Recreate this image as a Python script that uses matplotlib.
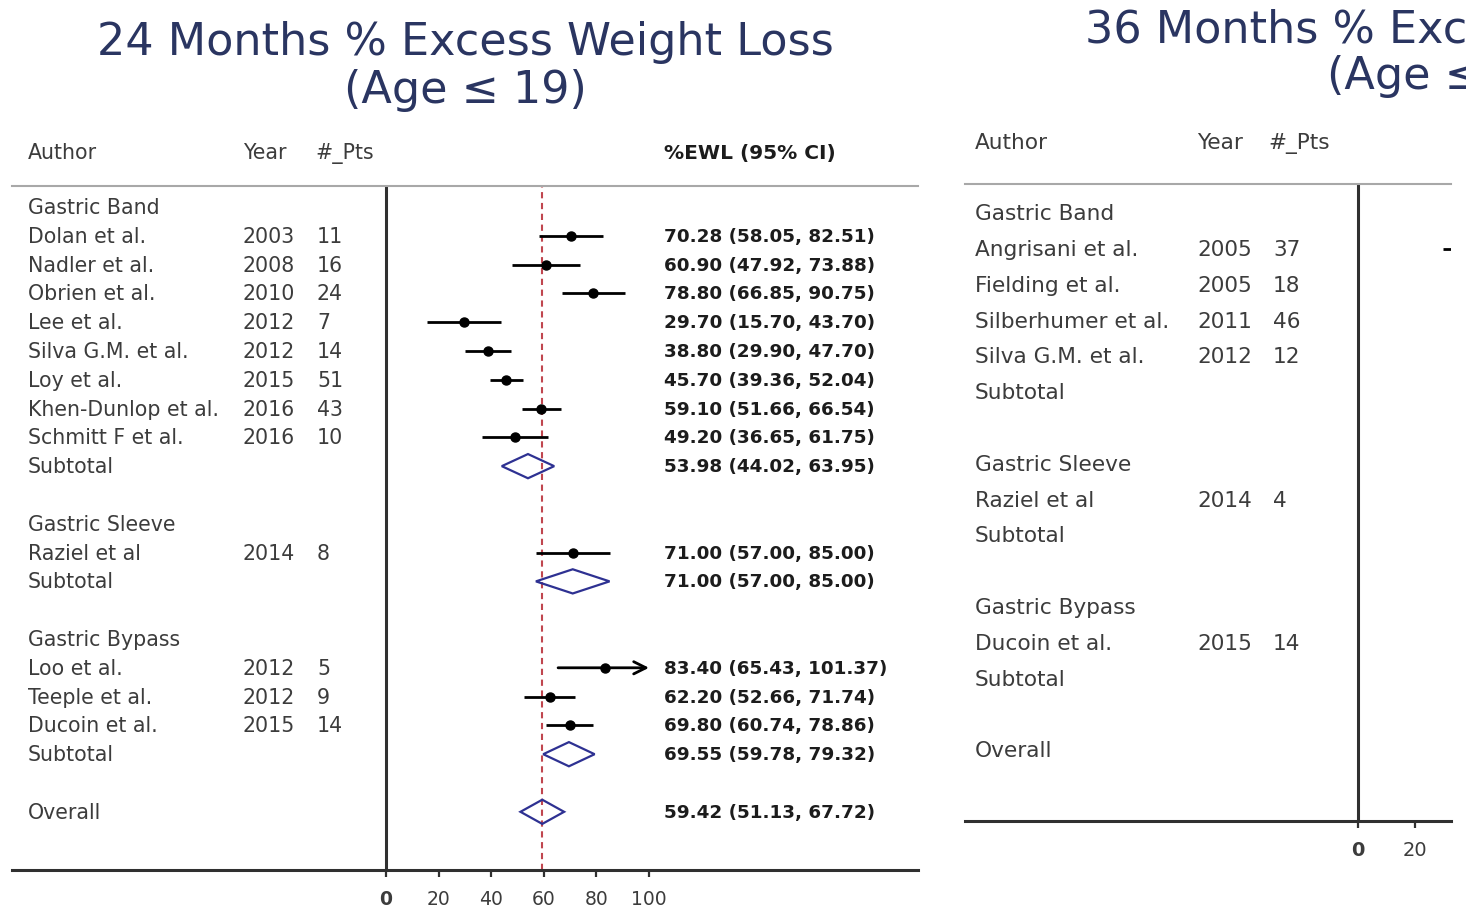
import matplotlib.pyplot as plt
from matplotlib.transforms import Affine2D, blended_transform_factory
from matplotlib.patches import Polygon

plt.rcParams['font.family'] = ['DejaVu Sans']

# ----------- 24 months (left panel) ----------- #
band_authors = ['Dolan et al.', 'Nadler et al.', 'Obrien et al.', 'Lee et al.',
                'Silva G.M. et al.', 'Loy et al.', 'Khen-Dunlop et al.', 'Schmitt F et al.']
band_years = [2003, 2008, 2010, 2012, 2012, 2015, 2016, 2016]
band_pts = [11, 16, 24, 7, 14, 51, 43, 10]
band_ewl = [70.28, 60.90, 78.80, 29.70, 38.80, 45.70, 59.10, 49.20]
band_low = [58.05, 47.92, 66.85, 15.70, 29.90, 39.36, 51.66, 36.65]
band_high = [82.51, 73.88, 90.75, 43.70, 47.70, 52.04, 66.54, 61.75]
band_sub = [53.98, 44.02, 63.95]

sleeve_authors = ['Raziel et al']
sleeve_years = [2014]
sleeve_pts = [8]
sleeve_ewl = [71.00]
sleeve_low = [57.00]
sleeve_high = [85.00]
sleeve_sub = [71.00, 57.00, 85.00]

bypass_authors = ['Loo et al.', 'Teeple et al.', 'Ducoin et al.']
bypass_years = [2012, 2012, 2015]
bypass_pts = [5, 9, 14]
bypass_ewl = [83.40, 62.20, 69.80]
bypass_low = [65.43, 52.66, 60.74]
bypass_high = [101.37, 71.74, 78.86]
bypass_sub = [69.55, 59.78, 79.32]

overall_24 = [59.42, 51.13, 67.72]

# ----------- 36 months (right panel, cut off in the source) ----------- #
band36_authors = ['Angrisani et al.', 'Fielding et al.', 'Silberhumer et al.', 'Silva G.M. et al.']
band36_years = [2005, 2005, 2011, 2012]
band36_pts = [37, 18, 46, 12]
band36_low = [29.8, None, None, None]   # only the start of the first CI is visible
sleeve36_authors = ['Raziel et al']
sleeve36_years = [2014]
sleeve36_pts = [4]
bypass36_authors = ['Ducoin et al.']
bypass36_years = [2015]
bypass36_pts = [14]

group_names = ['Gastric Band', 'Gastric Sleeve', 'Gastric Bypass']
ticks = [0, 20, 40, 60, 80, 100]

W, H = 1466, 912
fig = plt.figure(figsize=(W / 100, H / 100), dpi=100)
px = Affine2D().scale(1 / W, -1 / H).translate(0, 1) + fig.transFigure

GRAY = '#3c3c3c'
NAVY = '#2a3561'
BLUE = '#2e3192'
RED = '#c0464f'
LINE = '#303030'
DARK = '#1c1c1c'


def add_ax(x0, y0, x1, y1):
    return fig.add_axes([x0 / W, 1 - y1 / H, (x1 - x0) / W, (y1 - y0) / H])


def style_axes(ax, xlim, ylim, tick_fs):
    ax.set_xticks(ticks)
    ax.set_xlim(*xlim)
    ax.set_ylim(*ylim)
    ax.patch.set_alpha(0)
    for s in ['left', 'right']:
        ax.spines[s].set_visible(False)
    ax.spines['top'].set_color('#a8a8a8')
    ax.spines['top'].set_linewidth(1.5)
    ax.spines['bottom'].set_color(LINE)
    ax.spines['bottom'].set_linewidth(2.2)
    ax.set_yticks([])
    ax.tick_params(axis='x', length=5, width=1.6, color=LINE, labelsize=tick_fs,
                   labelcolor=GRAY, pad=9)
    ax.get_xticklabels()[0].set_fontweight('bold')
    ax.axvline(0, color=LINE, lw=2.2)


def draw_labels(ax, groups, cols, fs):
    xa, xy, xn = cols
    tr = blended_transform_factory(px, ax.transData)
    kw = dict(transform=tr, va='center', fontsize=fs, color=GRAY)
    rows = {}
    r = 0
    for name, authors, years, pts in groups:
        ax.text(xa, r, name, **kw)
        r += 1
        for a, y, n in zip(authors, years, pts):
            ax.text(xa, r, a, **kw)
            ax.text(xy, r, str(y), **kw)
            ax.text(xn, r, str(n), **kw)
            rows[(name, a)] = r
            r += 1
        ax.text(xa, r, 'Subtotal', **kw)
        rows[(name, 'Subtotal')] = r
        r += 2
    ax.text(xa, r, 'Overall', **kw)
    rows['Overall'] = r
    return rows


def diamond(ax, r, est, lo, hi, hh=0.42):
    ax.add_patch(Polygon([(lo, r), (est, r - hh), (hi, r), (est, r + hh)],
                         closed=True, fill=False, ec=BLUE, lw=1.6, zorder=4))


def ci_text(ax, r, est, lo, hi, x):
    tr = blended_transform_factory(px, ax.transData)
    ax.text(x, r, f'{est:.2f} ({lo:.2f}, {hi:.2f})', transform=tr, va='center',
            fontsize=13.2, fontweight='bold', color=DARK)


# ----------- LEFT PANEL ----------- #
axL = add_ax(12, 187, 918, 871)
style_axes(axL, ((12 - 386) / 2.63, (918 - 386) / 2.63), (23.02, -0.726), 13.5)
groups_24 = [
    (group_names[0], band_authors, band_years, band_pts),
    (group_names[1], sleeve_authors, sleeve_years, sleeve_pts),
    (group_names[2], bypass_authors, bypass_years, bypass_pts),
]
rowsL = draw_labels(axL, groups_24, (28, 243, 317), 14.8)

est_24 = [
    (group_names[0], band_authors, band_ewl, band_low, band_high, band_sub),
    (group_names[1], sleeve_authors, sleeve_ewl, sleeve_low, sleeve_high, sleeve_sub),
    (group_names[2], bypass_authors, bypass_ewl, bypass_low, bypass_high, bypass_sub),
]
axL.axvline(overall_24[0], color=RED, lw=1.5, ls=(0, (3, 2.2)), zorder=2)
for name, authors, ewl, low, high, sub in est_24:
    for a, e, lo, hi in zip(authors, ewl, low, high):
        r = rowsL[(name, a)]
        if hi > 100:
            axL.annotate('', xy=(100, r), xytext=(lo, r),
                         arrowprops=dict(arrowstyle='->', lw=2, color='k',
                                         mutation_scale=22, shrinkA=0, shrinkB=0))
        else:
            axL.hlines(r, lo, hi, color='k', lw=2, zorder=3)
        axL.plot(e, r, 'o', color='k', ms=6.5, zorder=5)
        ci_text(axL, r, e, lo, hi, 664)
    r = rowsL[(name, 'Subtotal')]
    diamond(axL, r, *sub)
    ci_text(axL, r, *sub, 664)
r = rowsL['Overall']
diamond(axL, r, *overall_24)
ci_text(axL, r, *overall_24, 664)

hdr = dict(transform=px, va='center', fontsize=14.8, color=GRAY)
fig.text(28, 153, 'Author', **hdr)
fig.text(243, 153, 'Year', **hdr)
fig.text(315, 153, '#_Pts', **hdr)
fig.text(664, 153, '%EWL (95% CI)', transform=px, va='center', fontsize=14.5,
         fontweight='bold', color=DARK)

ttl = dict(transform=px, ha='center', va='center', fontsize=32, color=NAVY)
fig.text(465, 43, '24 Months % Excess Weight Loss', **ttl)
fig.text(465, 91, '(Age \u2264 19)', **ttl)

# ----------- RIGHT PANEL (cropped) ----------- #
axR = add_ax(965, 185, 1451, 822)
style_axes(axR, ((965 - 1358) / 2.85, (1451 - 1358) / 2.85), (16.98, -0.818), 14)
groups_36 = [
    (group_names[0], band36_authors, band36_years, band36_pts),
    (group_names[1], sleeve36_authors, sleeve36_years, sleeve36_pts),
    (group_names[2], bypass36_authors, bypass36_years, bypass36_pts),
]
rowsR = draw_labels(axR, groups_36, (975, 1197, 1273), 15.6)
for a, lo in zip(band36_authors, band36_low):
    if lo is not None:
        axR.hlines(rowsR[(group_names[0], a)], lo, axR.get_xlim()[1] + 5,
                   color='k', lw=2)

hdr['fontsize'] = 15.6
fig.text(975, 143, 'Author', **hdr)
fig.text(1197, 143, 'Year', **hdr)
fig.text(1268, 143, '#_Pts', **hdr)
fig.text(1453, 30, '36 Months % Excess Weight Loss', **ttl)
fig.text(1448, 77, '(Age \u2264 19)', **ttl)

plt.savefig('out.png', dpi=100, facecolor='white')
